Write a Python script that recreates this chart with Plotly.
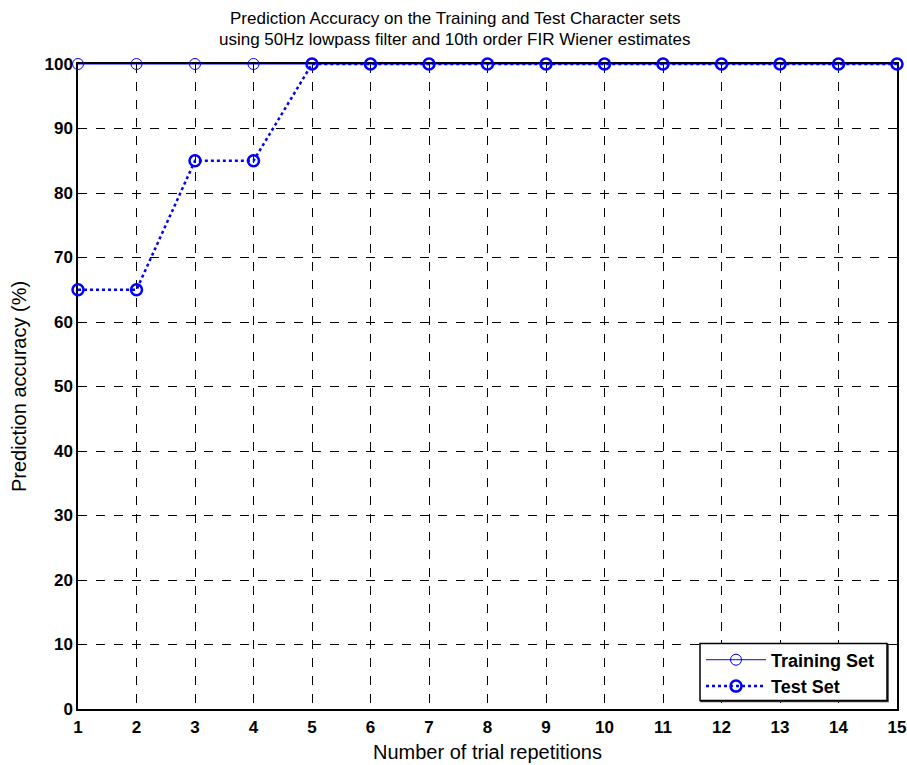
import plotly.graph_objects as go

# Trial repetition counts and prediction accuracy (%)
repetitions = list(range(1, 16))
training_accuracy = [100, 100, 100, 100, 100, 100, 100, 100, 100, 100, 100, 100, 100, 100, 100]
test_accuracy = [65, 65, 85, 85, 100, 100, 100, 100, 100, 100, 100, 100, 100, 100, 100]

x_ticks = list(range(1, 16))
y_ticks = list(range(0, 101, 10))

title_lines = [
    "Prediction Accuracy on the Training and Test Character sets",
    "using 50Hz lowpass filter and 10th order FIR Wiener estimates",
]

BLUE = "#0000FF"
SANS = "Liberation Sans, Arial, sans-serif"

# plot-area geometry in pixels, used to convert paper coordinates
PLOT_L, PLOT_R, PLOT_T, PLOT_B = 78, 897, 64, 709.5
PW, PH = PLOT_R - PLOT_L, PLOT_B - PLOT_T


def px_x(x):
    return (x - PLOT_L) / PW


def px_y(y):
    return (PLOT_B - y) / PH


fig = go.Figure()
fig.add_trace(go.Scatter(
    x=repetitions, y=training_accuracy, name="Training Set",
    mode="lines+markers",
    line=dict(color=BLUE, width=1),
    marker=dict(symbol="circle-open", size=11, color=BLUE, line=dict(width=1)),
    cliponaxis=False,
))
fig.add_trace(go.Scatter(
    x=repetitions, y=test_accuracy, name="Test Set",
    mode="lines+markers",
    line=dict(color=BLUE, width=2.5, dash="dot"),
    marker=dict(symbol="circle-open", size=11, color=BLUE, line=dict(width=2.5)),
    cliponaxis=False,
))

axis_common = dict(
    showline=True, linecolor="black", linewidth=1.5, mirror=True,
    showgrid=True, gridcolor="black", gridwidth=1, griddash="dash",
    zeroline=False, ticks="", automargin=False, layer="below traces",
    tickfont=dict(family=SANS, size=17, color="black", weight="bold"),
)

fig.update_layout(
    width=907, height=765,
    margin=dict(l=PLOT_L, r=907 - PLOT_R, t=PLOT_T, b=765 - PLOT_B),
    paper_bgcolor="white", plot_bgcolor="white",
    xaxis=dict(
        range=[1, 15], tickvals=x_ticks, ticklabelstandoff=2,
        title=dict(text="Number of trial repetitions", standoff=9,
                   font=dict(family=SANS, size=20, color="black")),
        **axis_common,
    ),
    yaxis=dict(
        range=[0, 100], tickvals=y_ticks,
        title=dict(text="Prediction accuracy (%)", standoff=12,
                   font=dict(family=SANS, size=20, color="black")),
        **axis_common,
    ),
    legend=dict(
        x=px_x(701), xanchor="left", y=px_y(705), yanchor="bottom",
        bgcolor="rgba(0,0,0,0)", borderwidth=0,
        font=dict(family=SANS, size=18, color="black", weight="bold"),
        itemwidth=60, tracegroupgap=0,
    ),
    showlegend=True,
)

# Legend frame with a slight drop shadow
fig.add_shape(type="rect", xref="paper", yref="paper",
              x0=px_x(701), x1=px_x(888), y0=px_y(702), y1=px_y(645),
              line=dict(color="#333333", width=1.5), fillcolor="#333333", layer="above")
fig.add_shape(type="rect", xref="paper", yref="paper",
              x0=px_x(700), x1=px_x(887), y0=px_y(701), y1=px_y(644),
              line=dict(color="black", width=1.5), fillcolor="white", layer="above")

# Two-line heading, placed as separate annotations for tight line spacing
for i, line in enumerate(title_lines):
    fig.add_annotation(
        text=line, xref="paper", yref="paper",
        x=px_x(454.5), xanchor="center",
        y=1 + (46 - 21 * i) / PH, yanchor="middle",
        showarrow=False,
        font=dict(family=SANS, size=17, color="black"),
    )

fig.write_html("out.html")
